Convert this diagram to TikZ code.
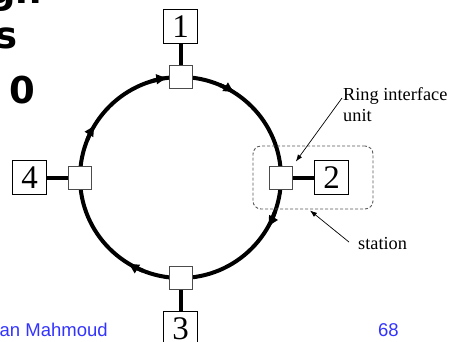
\documentclass[tikz,border=0pt]{standalone}
\usepackage{fontspec}
\setmainfont{Liberation Serif}
\newfontfamily\footfont{Liberation Sans}
\newfontfamily\titlefont{DejaVu Sans}
\usepackage{tikz}
\usetikzlibrary{positioning, arrows.meta, calc}
\definecolor{footblue}{RGB}{51,51,255}

\begin{document}
\begin{tikzpicture}[x=1pt, y=-1pt,
    riu/.style={draw=gray!60!black, fill=white, line width=0.8pt, minimum size=23pt, inner sep=0},
    stn/.style={draw, fill=white, line width=0.6pt, minimum size=34pt, inner sep=0, font=\fontsize{33}{33}\selectfont},
    ring/.style={line width=4pt},
    link/.style={line width=4pt},
    note/.style={font=\fontsize{18.3}{21}\selectfont, inner sep=0},
    pointer/.style={line width=0.7pt, -{Latex[length=7pt,width=5pt]}},
    slidetitle/.style={anchor=base west, inner sep=0, font=\titlefont\bfseries\fontsize{37}{37}\selectfont},
    slidefoot/.style={anchor=base west, inner sep=0, text=footblue, font=\footfont\fontsize{18.5}{18.5}\selectfont}]

    \useasboundingbox (0,0) rectangle (452,341);

    % Slide title and footer
    \node[slidetitle] (ttlA) at (-11,3) {gh};
    \node[slidetitle] (ttlB) at (-5,48) {s};
    \node[slidetitle] (ttlC) at (9.5,103) {0};
    \node[slidefoot] (author) at (-0.5,336) {an Mahmoud};
    \node[slidefoot] (pageno) at (378,336) {68};

    % Draw ring
    \coordinate (ctr) at (180.5,177.5);
    \draw[ring] (ctr) circle[radius=100.5];
    \foreach \t in {-97,-148,-57,30,122}
      \draw[ring, -{Latex[length=12pt,width=11pt]}] ($(ctr)+(\t-10:100.5)$) arc[start angle=\t-10, end angle=\t, radius=100.5];

    % Stations and their ring interface units
    \foreach \n/\a in {1/-90, 2/0, 3/90, 4/180} {
      \node[riu] (riu\n) at ($(ctr)+(\a:100.5)$) {};
      \node[stn] (st\n) at ($(ctr)+(\a:151)$) {\n};
      \draw[link] (riu\n) -- (st\n);
    }

    % One station outlined
    \node[draw=gray!70!black, dash pattern=on 3pt off 2pt, rounded corners=8pt, line width=0.9pt,
          minimum width=120pt, minimum height=63pt] (stbox) at (313,177.5) {};

    % Labels
    \node[note, anchor=north west, align=left] (rilbl) at (343,87.5) {Ring interface\\unit};
    \node[note, anchor=base west] (stlbl) at (358,249) {station};
    \draw[pointer, shorten >=5pt] ($(rilbl.north west)+(-1,10.5)$) -- (riu2.north east);
    \draw[pointer] ($(stlbl.west)+(-9,-1)$) -- ($(stbox.south)+(-3,1)$);

\end{tikzpicture}
\end{document}
